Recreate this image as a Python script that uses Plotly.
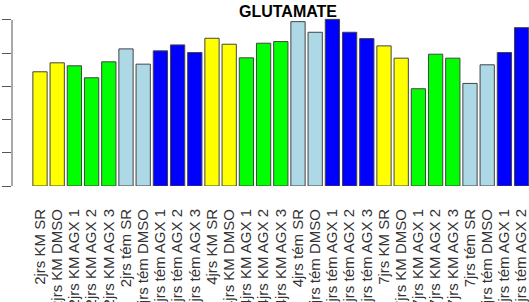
import plotly.graph_objects as go

categories = [
    "2jrs KM SR", "2jrs KM DMSO", "2jrs KM AGX 1", "2jrs KM AGX 2", "2jrs KM AGX 3",
    "2jrs tém SR", "2jrs tém DMSO", "2jrs tém AGX 1", "2jrs tém AGX 2", "2jrs tém AGX 3",
    "4jrs KM SR", "4jrs KM DMSO", "4jrs KM AGX 1", "4jrs KM AGX 2", "4jrs KM AGX 3",
    "4jrs tém SR", "4jrs tém DMSO", "4jrs tém AGX 1", "4jrs tém AGX 2", "4jrs tém AGX 3",
    "7jrs KM SR", "7jrs KM DMSO", "7jrs KM AGX 1", "7jrs KM AGX 2", "7jrs KM AGX 3",
    "7jrs tém SR", "7jrs tém DMSO", "7jrs tém AGX 1", "7jrs tém AGX 2",
]
values = [
    3.44, 3.71, 3.62, 3.26, 3.74,
    4.13, 3.67, 4.07, 4.25, 4.02,
    4.45, 4.27, 3.86, 4.30, 4.35,
    4.95, 4.63, 5.02, 4.63, 4.44,
    4.22, 3.85, 2.93, 3.97, 3.85,
    3.09, 3.65, 4.02, 4.77,
]
group_colors = ["yellow", "yellow", "#00FF00", "#00FF00", "#00FF00",
                "lightblue", "lightblue", "blue", "blue", "blue"]
colors = [group_colors[i % 10] for i in range(len(categories))]
ytick_vals = [0, 1, 2, 3, 4, 5]

fig = go.Figure(go.Bar(
    x=list(range(len(categories))), y=values,
    marker=dict(color=colors, line=dict(color="#444444", width=1)),
    width=0.83,
))

fig.update_layout(
    width=529, height=302,
    margin=dict(l=12, r=0, t=18, b=116, pad=0, autoexpand=False),
    paper_bgcolor="white", plot_bgcolor="white",
    showlegend=False,
    title=dict(text="<b>GLUTAMATE</b>", x=288/529, xanchor="center", xref="container",
               y=1 - 11/302, yanchor="middle", yref="container",
               font=dict(family="Liberation Sans, Arial, sans-serif", size=16, color="black")),
    font=dict(family="Liberation Sans, Arial, sans-serif"),
)
fig.update_xaxes(
    range=[-1.628, 28.43], automargin=False,
    tickmode="array", tickvals=list(range(len(categories))), ticktext=categories,
    tickangle=-90, tickfont=dict(size=15, color="#333333"),
    showgrid=False, zeroline=False, showline=False, ticks="",
    ticklabelstandoff=19, ticklabeloverflow="allow",
)
fig.update_yaxes(
    range=[0, 5.06], automargin=False,
    tickvals=ytick_vals, showticklabels=False,
    ticks="outside", ticklen=9, tickcolor="#555555", tickwidth=1,
    showgrid=False, zeroline=False, showline=False,
)
fig.add_shape(type="line", xref="paper", yref="y", x0=0, x1=0, y0=0, y1=5,
              line=dict(color="#555555", width=1))

fig.write_html("out.html", config={"displayModeBar": False},
               post_script="document.body.style.margin='0';document.body.style.overflow='hidden';")
